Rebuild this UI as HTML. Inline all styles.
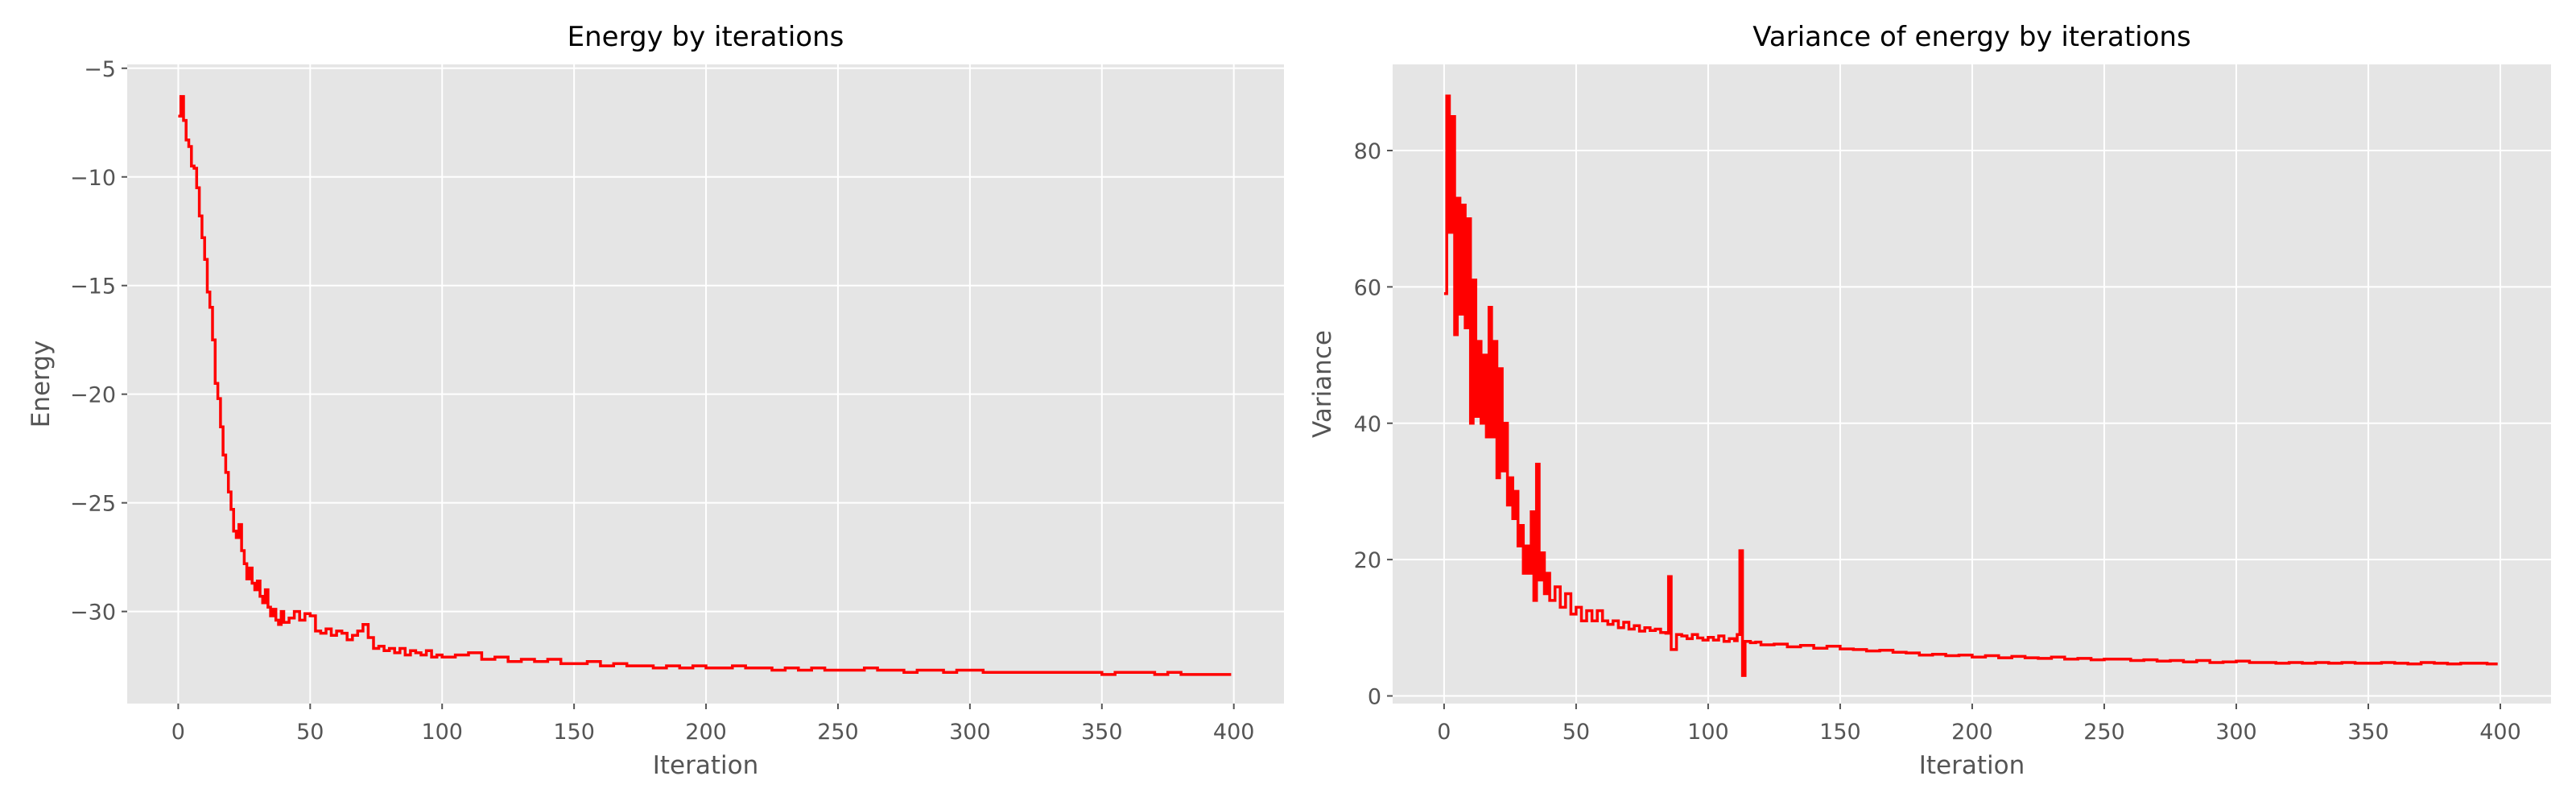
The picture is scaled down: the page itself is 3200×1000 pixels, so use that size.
<!DOCTYPE html>
<html><head><meta charset="utf-8"><style>
html,body{margin:0;padding:0;background:#fff}
svg{display:block;font-family:"DejaVu Sans","Liberation Sans",sans-serif}
</style></head><body>
<svg id="chart" width="3200" height="1000" viewBox="0 0 3200 1000"></svg>
<script>
const xTicks=[0,50,100,150,200,250,300,350,400];
const energyYTicks=[-5,-10,-15,-20,-25,-30];
const varYTicks=[0,20,40,60,80];

const energyIter=[0,1,2,3,4,5,6,7,8,9,10,11,12,13,14,15,16,17,18,19,20,21,22,23,24,25,26,27,28,29,30,31,32,33,34,35,36,37,38,39,40,
42,44,46,48,50,52,54,56,58,60,62,64,66,68,70,72,74,76,78,80,82,84,86,88,90,92,94,96,98,100,
105,110,115,120,125,130,135,140,145,150,155,160,165,170,175,180,185,190,195,200,205,210,215,220,225,230,235,240,245,250,255,260,265,270,275,280,285,290,295,300,305,310,315,320,325,330,335,340,345,350,355,360,365,370,375,380,385,390,395,399];
const energyVals=[-7.2,-6.3,-7.4,-8.3,-8.6,-9.5,-9.6,-10.5,-11.8,-12.8,-13.8,-15.3,-16.0,-17.5,-19.5,-20.2,-21.5,-22.8,-23.6,-24.5,-25.3,-26.3,-26.6,-26.0,-27.2,-27.8,-28.5,-28.0,-28.7,-29.0,-28.6,-29.3,-29.6,-29.0,-29.8,-30.2,-29.9,-30.4,-30.6,-30.0,-30.5,
-30.3,-30.0,-30.4,-30.1,-30.2,-30.9,-31.0,-30.8,-31.1,-30.9,-31.0,-31.3,-31.1,-30.9,-30.6,-31.2,-31.7,-31.6,-31.8,-31.7,-31.9,-31.7,-32.0,-31.8,-31.9,-32.0,-31.8,-32.1,-32.0,-32.1,
-32.0,-31.9,-32.2,-32.1,-32.3,-32.2,-32.3,-32.2,-32.4,-32.4,-32.3,-32.5,-32.4,-32.5,-32.5,-32.6,-32.5,-32.6,-32.5,-32.6,-32.6,-32.5,-32.6,-32.6,-32.7,-32.6,-32.7,-32.6,-32.7,-32.7,-32.7,-32.6,-32.7,-32.7,-32.8,-32.7,-32.7,-32.8,-32.7,-32.7,-32.8,-32.8,-32.8,-32.8,-32.8,-32.8,-32.8,-32.8,-32.8,-32.9,-32.8,-32.8,-32.8,-32.9,-32.8,-32.9,-32.9,-32.9,-32.9,-32.9];

const varIter=[0,1,2,3,4,5,6,7,8,9,10,11,12,13,14,15,16,17,18,19,20,21,22,23,24,25,26,27,28,29,30,31,32,33,34,35,36,37,38,39,40,
42,44,46,48,50,52,54,56,58,60,62,64,66,68,70,72,74,76,78,80,82,84,85,86,88,90,92,94,96,98,100,102,104,106,108,110,111,112,113,114,116,118,120,
125,130,135,140,145,150,155,160,165,170,175,180,185,190,195,200,205,210,215,220,225,230,235,240,245,250,255,260,265,270,275,280,285,290,295,300,305,310,315,320,325,330,335,340,345,350,355,360,365,370,375,380,385,390,395,399];
const varVals=[59,88,68,85,53,73,56,72,54,70,40,61,41,52,40,50,38,57,38,52,32,48,33,40,28,32,26,30,22,25,18,22,18,27,14,34,17,21,15,18,14,
16,13,15,12,13,11,12.5,11,12.5,11,10.5,11,10,10.8,9.8,10.3,9.5,10,9.6,9.8,9.3,9.2,17.5,6.8,9,8.8,8.4,9,8.5,8.2,8.6,8.2,8.8,8.0,8.4,8.1,9.0,21.3,3.0,8.0,7.8,7.9,7.5,
7.6,7.2,7.4,7.0,7.3,6.9,6.8,6.6,6.7,6.4,6.3,6.0,6.1,5.9,6.0,5.7,5.9,5.6,5.8,5.6,5.5,5.7,5.4,5.5,5.3,5.4,5.4,5.2,5.3,5.1,5.2,5.0,5.2,4.9,5.0,5.1,4.9,4.9,4.8,4.9,4.8,4.9,4.8,4.9,4.8,4.8,4.9,4.8,4.7,4.9,4.8,4.7,4.8,4.8,4.7,4.7];

const svg=document.getElementById('chart');
const NS='http://www.w3.org/2000/svg';
function mk(tag,attrs,parent){const e=document.createElementNS(NS,tag);for(const k in attrs)e.setAttribute(k,attrs[k]);(parent||svg).appendChild(e);return e;}

function panel(o){
  const g=mk('g',{});
  
  
  const sx=v=>o.x0px+(v-0)*(o.x400px-o.x0px)/400;
  const sy=v=>o.yApx+(v-o.yA)*(o.yBpx-o.yApx)/(o.yB-o.yA);
  const bg=mk('rect',{x:o.L,y:o.T,width:o.R-o.L,height:o.B-o.T,fill:'#E5E5E5'},g);
  
  
  xTicks.forEach(t=>{
    const x=sx(t);
    const gl=mk('line',{x1:x,x2:x,y1:o.T,y2:o.B,stroke:'#fff','stroke-width':2},g);
    
    
    mk('line',{x1:x,x2:x,y1:o.B,y2:o.B+7,stroke:'#555','stroke-width':2},g);
    const tx=mk('text',{x:x,y:o.B+44,'text-anchor':'middle','font-size':27,fill:'#555'},g);
    tx.textContent=t;
    
    
  });
  o.yTicks.forEach(t=>{
    const y=sy(t);
    const gl=mk('line',{x1:o.L,x2:o.R,y1:y,y2:y,stroke:'#fff','stroke-width':2},g);
    
    
    mk('line',{x1:o.L-7,x2:o.L,y1:y,y2:y,stroke:'#555','stroke-width':2},g);
    const tx=mk('text',{x:o.L-14,y:y+10,'text-anchor':'end','font-size':27,fill:'#555'},g);
    tx.textContent=String(t).replace('-','\u2212');
    
    
  });
  let d='';
  o.xs.forEach((xv,i)=>{
    const X=sx(xv).toFixed(1), Y=sy(o.ys[i]).toFixed(1);
    if(i===0) d+='M'+X+','+Y;
    else d+='H'+X+'V'+Y;
  });
  const p=mk('path',{d:d,fill:'none',stroke:'#FF0000','stroke-width':3.5,'stroke-linejoin':'miter'},g);
  
  
  const ti=mk('text',{x:(o.L+o.R)/2,y:57,'text-anchor':'middle','font-size':34,fill:'#000'},g);
  ti.textContent=o.title;
  
  
  const xl=mk('text',{x:(o.L+o.R)/2,y:961,'text-anchor':'middle','font-size':31,fill:'#555'},g);
  xl.textContent='Iteration';
  
  
  const yl=mk('text',{x:o.ylx,y:(o.T+o.B)/2,'text-anchor':'middle','font-size':31,fill:'#555',transform:`rotate(-90 ${o.ylx} ${(o.T+o.B)/2})`},g);
  yl.textContent=o.ylabel;
  
  
}

panel({name:'energy-panel',title:'Energy by iterations',ylabel:'Energy',L:158,R:1595,T:80,B:874,
  x0px:221.4,x400px:1532.7,yA:-5,yApx:84.8,yB:-30,yBpx:759.6,yTicks:energyYTicks,xs:energyIter,ys:energyVals,ylx:61});
panel({name:'variance-panel',title:'Variance of energy by iterations',ylabel:'Variance',L:1730,R:3169,T:80,B:874,
  x0px:1793.9,x400px:3106,yA:0,yApx:864.5,yB:80,yBpx:187,yTicks:varYTicks,xs:varIter,ys:varVals,ylx:1653});
</script>
</body></html>
